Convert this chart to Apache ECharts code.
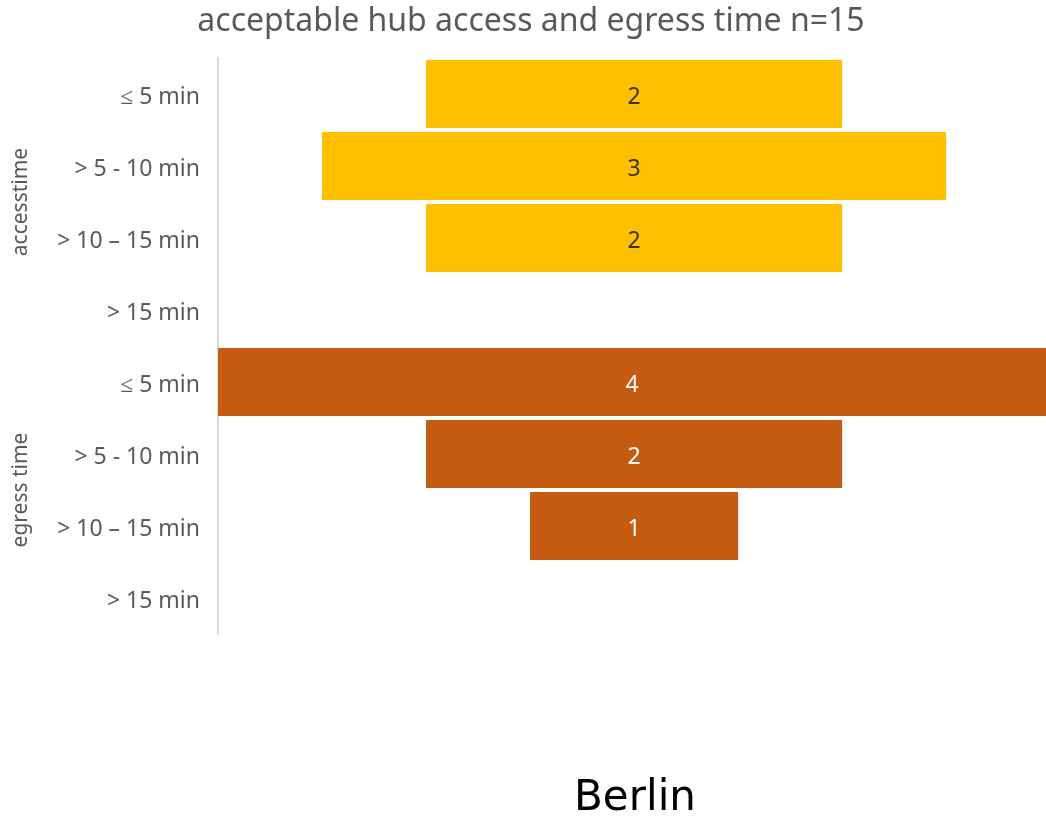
<!DOCTYPE html>
<html>
<head>
<meta charset="utf-8">
<title>acceptable hub access and egress time</title>
<script src="https://cdn.jsdelivr.net/npm/echarts@6/dist/echarts.min.js"></script>
<style>
  html, body { margin: 0; padding: 0; background: #fff; }
  #main { width: 1046px; height: 819px; }
</style>
</head>
<body>
<div id="main"></div>
<script>
// rows, top to bottom
var timeBands = ['≤ 5 min', '> 5 - 10 min', '> 10 – 15 min', '> 15 min'];
var groups = ['accesstime', 'egress time'];
var accessCounts = [2, 3, 2, 0];
var egressCounts = [4, 2, 1, 0];
var maxCount = 4;

var categories = timeBands.concat(timeBands);
var accessData = accessCounts.concat(['-', '-', '-', '-']);
var egressData = ['-', '-', '-', '-'].concat(egressCounts);
// invisible offset so every bar is centred
var allCounts = accessCounts.concat(egressCounts);
var spacer = allCounts.map(function (v) { return (maxCount - v) / 2; });

var chart = echarts.init(document.getElementById('main'));
var font = 'Noto Sans';

var hideZero = function (p) { return p.value ? p.value : ''; };

var option = {
  animation: false,
  title: [
    {
      text: 'acceptable hub access and egress time n=15',
      left: 526, top: 1, textAlign: 'center',
      textStyle: { fontFamily: font, fontSize: 32, fontWeight: 'normal', color: '#595959' }
    },
    {
      text: 'Berlin',
      left: 630, top: 773, textAlign: 'center',
      textStyle: { fontFamily: 'DejaVu Sans', fontSize: 42, fontWeight: 'normal', color: '#000' }
    }
  ],
  grid: { left: 218, right: 0, top: 58, bottom: 185, containLabel: false },
  // the widest bar runs a little past the right edge of the picture
  xAxis: { type: 'value', min: 0, max: 3.98, show: false },
  yAxis: [
    {
      type: 'category',
      data: categories,
      inverse: true,
      axisLine: { show: true, lineStyle: { color: '#d9d9d9', width: 2 } },
      axisTick: { show: false },
      axisLabel: {
        margin: 18, formatter: '{t|{value}}',
        rich: { t: { padding: [6, 0, 0, 0], fontFamily: font, fontSize: 23, color: '#595959' } }
      }
    },
    {
      type: 'category',
      data: groups,
      inverse: true,
      position: 'left',
      axisLine: { show: false },
      axisTick: { show: false },
      axisLabel: { margin: 186, rotate: 90, fontFamily: font, fontSize: 21, color: '#595959' }
    }
  ],
  series: [
    {
      type: 'bar', stack: 'f', barWidth: 68, silent: true,
      itemStyle: { color: 'transparent' },
      data: spacer
    },
    {
      name: 'accesstime', type: 'bar', stack: 'f', barWidth: 68,
      itemStyle: { color: '#FFC000' },
      label: { show: true, position: 'inside', formatter: hideZero, offset: [0, 3], fontFamily: font, fontSize: 23, color: '#333' },
      data: accessData
    },
    {
      name: 'egress time', type: 'bar', stack: 'f', barWidth: 68,
      itemStyle: { color: '#C55A11' },
      label: { show: true, position: 'inside', formatter: hideZero, offset: [0, 3], fontFamily: font, fontSize: 23, color: '#fff' },
      data: egressData
    }
  ]
};

chart.setOption(option);
</script>
</body>
</html>
